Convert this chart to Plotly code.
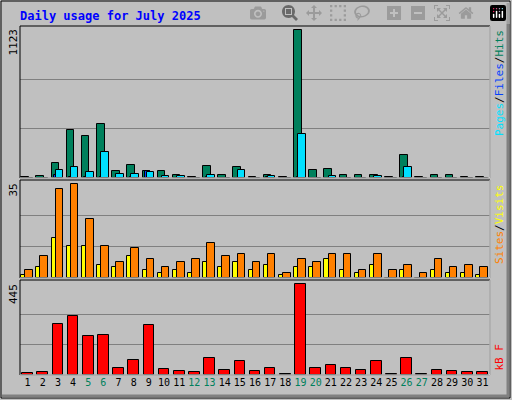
import plotly.graph_objects as go

days = list(range(1, 32))
hits = [10,15,117,368,323,414,56,102,56,56,20,10,94,20,81,10,25,10,1123,64,71,20,20,25,10,178,10,20,20,10,10]
files = [3,3,64,81,48,201,33,33,48,18,18,3,25,3,64,3,15,3,338,3,18,3,3,18,3,81,3,3,3,3,3]
pages = [3,3,25,10,8,8,3,5,56,3,3,2,5,2,3,2,8,2,5,2,3,2,2,3,2,8,2,3,3,2,2]
visits = [3,8,33,35,22,12,6,11,7,4,6,7,13,8,9,6,9,2,7,6,9,9,3,9,3,5,2,7,4,5,4]
sites = [1,4,15,12,12,5,4,8,3,2,3,2,6,4,6,3,5,1,4,4,7,3,2,5,0,3,0,3,2,2,1]
kbytes = [11,16,250,289,192,197,36,75,245,31,21,16,84,26,70,21,36,5,445,36,50,36,26,70,5,84,5,26,21,16,16]
weekend = [5,6,12,13,19,20,26,27]

C_HITS, C_FILES, C_PAGES = "#00805C", "#00E0FF", "#0040FF"
C_VIS, C_SITES, C_KB = "#FF8000", "#FFFF00", "#FF0000"
FONT = "DejaVu Sans Mono"
W, H = 512, 400
L, R, T, B = 20, 22, 26, 25
PH = H - T - B

def fy(py):
    return (H - B - py) / PH
def fx(px):
    return (px - L) / (W - L - R)

ln = dict(color="black", width=1)
fig = go.Figure()
fig.add_bar(x=days, y=hits, marker=dict(color=C_HITS, line=ln), width=0.5, offset=-0.42, yaxis="y")
fig.add_bar(x=days, y=pages, marker=dict(color=C_PAGES, line=ln), width=0.3, offset=-0.25, yaxis="y")
fig.add_bar(x=days, y=files, marker=dict(color=C_FILES, line=ln), width=0.5, offset=-0.15, yaxis="y")
fig.add_bar(x=days, y=sites, marker=dict(color=C_SITES, line=ln), width=0.3, offset=-0.42, xaxis="x2", yaxis="y2")
fig.add_bar(x=days, y=visits, marker=dict(color=C_VIS, line=ln), width=0.5, offset=-0.15, xaxis="x2", yaxis="y2")
fig.add_bar(x=days, y=kbytes, marker=dict(color=C_KB, line=ln), width=0.7, offset=-0.35, xaxis="x3", yaxis="y3")

ticktext = [f"<span style='color:{C_HITS}'>{d}</span>" if d in weekend else str(d) for d in days]
xcommon = dict(range=[0.5, 31.5], showgrid=False, zeroline=False, fixedrange=True)
def ycommon(mx, top):
    return dict(range=[0, mx * top], tickvals=[mx/3, 2*mx/3], showticklabels=False,
                showgrid=True, gridcolor="#808080", gridwidth=1, zeroline=False, ticks="")

d1 = [fy(178), 1]
d2 = [fy(278), fy(180)]
d3 = [0, fy(280)]
fig.update_layout(
    width=W, height=H, margin=dict(l=L, r=R, t=T, b=B, autoexpand=False),
    paper_bgcolor="#C0C0C0", plot_bgcolor="#C0C0C0",
    barmode="overlay", showlegend=False, bargap=0,
    font=dict(family=FONT, size=11, color="black"),
    xaxis=dict(**xcommon, showticklabels=False, anchor="y"),
    xaxis2=dict(**xcommon, showticklabels=False, anchor="y2"),
    xaxis3=dict(**xcommon, anchor="y3", tickvals=days, ticktext=ticktext, ticks="",
                tickangle=0, tickfont=dict(family=FONT, size=10)),
    yaxis=dict(**ycommon(1123, 1.03), domain=d1),
    yaxis2=dict(**ycommon(35, 1.04), domain=d2),
    yaxis3=dict(**ycommon(445, 1.045), domain=d3),
)

shapes = []
shapes.append(dict(type="rect", xref="paper", yref="paper", x0=fx(1), x1=fx(W-2), y0=fy(H-2), y1=fy(1),
                   line=dict(color="black", width=1)))
shapes.append(dict(type="line", xref="paper", yref="paper", x0=fx(2), x1=fx(W-3), y0=fy(H-4), y1=fy(H-4),
                   line=dict(color="#808080", width=3)))
shapes.append(dict(type="line", xref="paper", yref="paper", x0=fx(W-4), x1=fx(W-4), y0=fy(H-3), y1=fy(3),
                   line=dict(color="#808080", width=3)))
for a, b in [(d1[0], d1[1]), (d2[0], d2[1]), (d3[0], d3[1])]:
    shapes.append(dict(type="rect", xref="paper", yref="paper", x0=0, x1=1, y0=a, y1=b,
                       line=dict(color="black", width=1)))
    shapes.append(dict(type="line", xref="paper", yref="paper", x0=0, x1=1, y0=a, y1=a,
                       line=dict(color="white", width=1)))
    shapes.append(dict(type="line", xref="paper", yref="paper", x0=1, x1=1, y0=a, y1=b,
                       line=dict(color="white", width=1)))
fig.update_layout(shapes=shapes)

ann = [
    dict(text="<b>Daily usage for July 2025</b>", x=fx(18), y=fy(16), xanchor="left", yanchor="middle",
         font=dict(color="#0000FF", size=12, family=FONT)),
    dict(text="1123", x=fx(13), y=fy(27), textangle=-90, xanchor="center", yanchor="top"),
    dict(text="35", x=fx(13), y=fy(182), textangle=-90, xanchor="center", yanchor="top"),
    dict(text="445", x=fx(13), y=fy(282), textangle=-90, xanchor="center", yanchor="top"),
    dict(text=f"<span style='color:{C_FILES}'>Pages</span>/<span style='color:{C_PAGES}'>Files</span>/<span style='color:{C_HITS}'>Hits</span>",
         x=fx(499), y=fy(28), textangle=-90, xanchor="center", yanchor="top"),
    dict(text=f"<span style='color:{C_VIS}'>Sites</span>/<span style='color:{C_SITES}'>Visits</span>",
         x=fx(499), y=fy(182), textangle=-90, xanchor="center", yanchor="top"),
    dict(text=f"<span style='color:{C_KB}'>kB F</span>",
         x=fx(499), y=fy(373), textangle=-90, xanchor="center", yanchor="bottom"),
]
for a in ann:
    a.update(xref="paper", yref="paper", showarrow=False)
    a.setdefault("font", dict(family=FONT, size=11, color="black"))
fig.update_layout(annotations=ann)

fig.write_html("out.html", post_script="document.body.style.margin='0';document.body.style.overflow='hidden';")
